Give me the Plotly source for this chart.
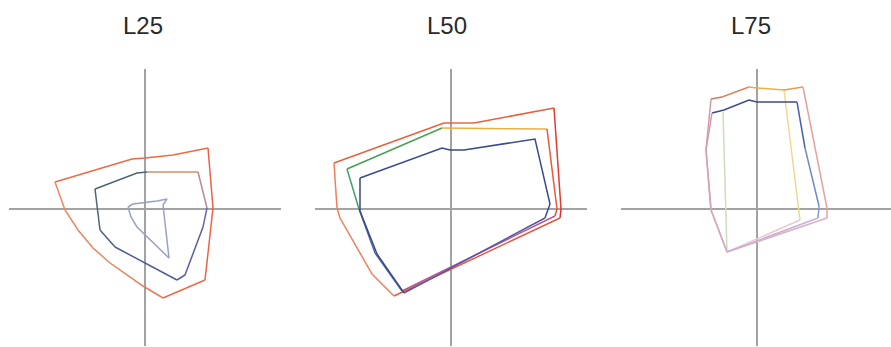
import plotly.graph_objects as go

# a*/b* gamut boundaries at three lightness slices (L = 25, 50, 75)
PANEL_TITLES = ["L25", "L50", "L75"]

# L25 slice
L25_OUTER_A = [-90, -13, 0, 28, 63, 68, 60, 18, -2, -35, -52, -67, -80]
L25_OUTER_B = [27, 50, 51, 54, 61, 1, -71, -89, -77, -54, -39, -21, -1]
L25_OUTER_C = ["#ec6a48", "#ec6a48", "#ec6a48", "#ec6a48", "#ec6244", "#ec6244",
               "#ec6a48", "#ef7a58", "#ef7a58", "#f0845e", "#f0845e", "#f0845e", "#f0845e"]

L25_MID_A = [-50, -8, 2, 53, 62, 58, 40, 32, -30, -45, -48]
L25_MID_B = [20, 36, 37, 37, 1, -18, -66, -71, -38, -21, 1]
L25_MID_C = ["#4d6474", "#4d6474", "#d29066", "#c08898", "#6a66b0", "#5a5ca8",
             "#5a5ca8", "#4e5c98", "#4d6080", "#4d6474", "#4d6474"]

L25_INNER_A = [-17, -12, 12, 22, 18, 24, -8, -14]
L25_INNER_B = [2, 5, 8, 10, 4, -49, -18, -8]
L25_INNER_C = ["#9aa2c4"] * 8

# L50 slice
L50_OUTER_A = [-117, -7, 3, 23, 103, 110, 109, -57, -79, -111, -114]
L50_OUTER_B = [46, 86, 86, 86, 101, 0, -9, -87, -65, -9, 1]
L50_OUTER_C = ["#e8603e", "#e86040", "#ea6a40", "#e8603c", "#e03a30", "#e03030",
               "#e45a40", "#f0805c", "#f0805c", "#f0805c", "#f0805c"]

L50_MID_A = [-104, -9, 96, 106, 104, -49, -76, -92]
L50_MID_B = [40, 81, 80, 0, -7, -82, -44, 0]
L50_MID_C = ["#48a050", "#e8b040", "#e85a3c", "#e0503c", "#b85890", "#4a68a8",
             "#4a68a8", "#40a070"]

L50_INNER_A = [-91, -9, -1, 13, 84, 99, 94, -47, -74, -91]
L50_INNER_B = [31, 61, 59, 59, 70, 5, -9, -84, -45, -2]
L50_INNER_C = ["#3a4a8e", "#3a4a8e", "#3a4a8e", "#3a4a8e", "#3a4a8e", "#3a4a8e",
               "#5c56a0", "#3a4a8e", "#3a4a8e", "#3a4a8e"]

# L75 slice
L75_OUTER_A = [-46, -35, -8, 0, 27, 46, 70, 70, -30, -46, -51]
L75_OUTER_B = [110, 112, 122, 121, 119, 122, 1, -9, -43, -1, 59]
L75_OUTER_C = ["#d07860", "#d88a58", "#e8a848", "#e8b048", "#e89a58", "#e8a0a0",
               "#e8a0a0", "#d8b0c8", "#d8a8c0", "#d8a0b0", "#d49aa8"]

L75_BLUE_A = [-45, -33, -8, 0, 40, 48, 62, 61, -30, -46, -51]
L75_BLUE_B = [96, 99, 109, 107, 107, 61, 3, -9, -43, -1, 59]
L75_BLUE_C = ["#3c4a8c", "#3c4a8c", "#3c4a8c", "#3c4a8c", "#4a60b0", "#7088c8",
              "#8898cc", "#c8b0d0", "#d8a8c0", "#d8a0b0", "#d49aa8"]

L75_YELLOW_A = [27, 43, -30, -34]
L75_YELLOW_B = [119, -11, -43, 97]
L75_YELLOW_C = ["#f0d890", "#ecc8cc", "#c8e0c0"]

PANELS = [
    [(L25_OUTER_A, L25_OUTER_B, L25_OUTER_C, True),
     (L25_MID_A, L25_MID_B, L25_MID_C, True),
     (L25_INNER_A, L25_INNER_B, L25_INNER_C, True)],
    [(L50_OUTER_A, L50_OUTER_B, L50_OUTER_C, True),
     (L50_MID_A, L50_MID_B, L50_MID_C, True),
     (L50_INNER_A, L50_INNER_B, L50_INNER_C, True)],
    [(L75_YELLOW_A, L75_YELLOW_B, L75_YELLOW_C, False),
     (L75_OUTER_A, L75_OUTER_B, L75_OUTER_C, True),
     (L75_BLUE_A, L75_BLUE_B, L75_BLUE_C, True)],
]

W, H = 891, 347
X_DOMAINS_PX = [(9, 281), (315, 587), (621, 891)]
X_RANGES = [(-136, 136), (-136, 136), (-136, 134)]
Y_DOMAIN_PX = (69, 346)
Y_RANGE = (-137, 140)
TITLE_X_PX = [143, 447, 751]
TITLE_Y_PX = 25

fig = go.Figure()


def add_boundary(fig, a, b, colors, closed, axis_idx):
    """Draw a boundary as runs of equally coloured segments."""
    n = len(a)
    n_seg = n if closed else n - 1
    suffix = "" if axis_idx == 1 else str(axis_idx)
    i = 0
    while i < n_seg:
        col = colors[i]
        j = i
        while j + 1 < n_seg and colors[j + 1] == col:
            j += 1
        idx = list(range(i, j + 2))
        xs = [a[k % n] for k in idx]
        ys = [b[k % n] for k in idx]
        fig.add_trace(go.Scatter(
            x=xs, y=ys, mode="lines",
            line=dict(color=col, width=1.5),
            xaxis="x" + suffix, yaxis="y" + suffix,
            hoverinfo="skip", showlegend=False))
        i = j + 1


for p, polys in enumerate(PANELS):
    for a, b, c, closed in polys:
        add_boundary(fig, a, b, c, closed, p + 1)

layout = dict(
    width=W, height=H,
    margin=dict(l=0, r=0, t=0, b=0),
    paper_bgcolor="white", plot_bgcolor="white",
    showlegend=False,
)
y0 = (H - Y_DOMAIN_PX[1]) / H
y1 = (H - Y_DOMAIN_PX[0]) / H
for p in range(3):
    suffix = "" if p == 0 else str(p + 1)
    x0, x1 = X_DOMAINS_PX[p]
    common = dict(showgrid=False, showticklabels=False, ticks="", showline=False,
                  zeroline=True, zerolinecolor="#a3a3a3", zerolinewidth=2)
    layout["xaxis" + suffix] = dict(
        domain=[x0 / W, min(x1 / W, 1.0)], range=list(X_RANGES[p]),
        anchor="y" + suffix, **common)
    layout["yaxis" + suffix] = dict(
        domain=[y0, y1], range=list(Y_RANGE),
        anchor="x" + suffix, **common)

fig.update_layout(**layout)

for p, title in enumerate(PANEL_TITLES):
    fig.add_annotation(
        text=title, xref="paper", yref="paper",
        x=TITLE_X_PX[p] / W, y=(H - TITLE_Y_PX) / H,
        xanchor="center", yanchor="middle", showarrow=False,
        font=dict(family="Liberation Sans, Arial, sans-serif", size=24, color="#2a2a2a"))

fig.write_html("out.html")
